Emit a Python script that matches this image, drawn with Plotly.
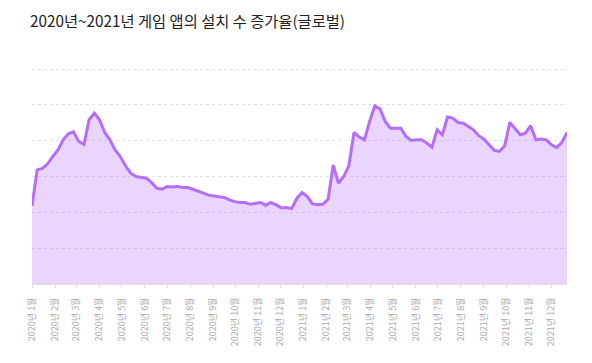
import pandas as pd
import plotly.graph_objects as go

title_text = "2020년~2021년 게임 앱의 설치 수 증가율(글로벌)"

# weekly values (relative scale)
values = [43.6, 63.7, 64.5, 67.1, 71.2, 74.9, 80.5, 83.9, 85.0, 79.6, 77.9, 91.7, 95.4, 91.7,
          84.6, 80.5, 74.9, 71.2, 66.0, 61.9, 60.0, 59.6, 59.1, 56.7, 53.5, 52.9, 54.4, 54.1,
          54.4, 53.9, 53.9, 52.9, 52.0, 50.7, 49.6, 49.3, 48.8, 48.3, 47.0, 46.0, 45.5, 45.5,
          44.5, 45.1, 45.5, 44.0, 45.5, 44.2, 42.5, 42.7, 42.1, 47.9, 51.1, 48.8,
          44.7, 44.2, 44.5, 47.3, 66.4, 56.3, 60.0, 66.0, 84.6, 82.0, 80.5, 90.8, 99.5, 97.7,
          90.8, 87.0, 87.0, 87.0, 82.4, 80.1, 80.5, 80.5, 78.7, 76.4, 86.1, 83.3, 93.2, 92.6,
          90.2, 89.8, 88.0, 86.1, 82.8, 80.9, 77.7, 74.6, 74.0, 77.2, 90.2, 87.0, 83.3, 84.2,
          88.4, 80.5, 80.9, 80.5, 77.7, 76.2, 79.0, 84.6]

weeks = pd.date_range("2020-01-01", periods=len(values), freq="7D")

month_ticks = pd.date_range("2020-01-01", "2021-12-01", freq="MS")
month_labels = [f"{d.year}년 {d.month}월" for d in month_ticks]

fig = go.Figure()
fig.add_trace(go.Scatter(
    x=weeks, y=values, mode="lines",
    line=dict(color="#b46dfd", width=3),
    fill="tozeroy", fillcolor="rgba(180,109,253,0.29)",
    hoverinfo="skip",
))

# page body adds an 8px offset; margins compensate for it
fig.update_layout(
    width=592, height=363,
    margin=dict(l=24, r=33, t=60, b=87),
    paper_bgcolor="white", plot_bgcolor="white",
    showlegend=False,
    font=dict(family="Noto Sans CJK KR, sans-serif"),
    title=dict(text=title_text, x=22 / 592, xref="container", xanchor="left",
               y=1 - 14 / 363, yref="container", yanchor="middle",
               font=dict(size=15.3, color="#222222", family="Noto Sans CJK KR")),
)

fig.update_xaxes(
    range=[weeks[0], weeks[-1]],
    tickvals=month_ticks, ticktext=month_labels,
    tickangle=-90, tickfont=dict(size=9, color="#a8a8a8"),
    showgrid=False, showline=True, linecolor="#dddddd", linewidth=1,
    ticks="outside", ticklen=3, tickcolor="#dddddd",
    ticklabelstandoff=6, automargin=False,
)
fig.update_yaxes(
    range=[0, 120.6], tickvals=[20, 40, 60, 80, 100, 120], showticklabels=False,
    showgrid=True, gridcolor="#e2e2e2", griddash="dot", gridwidth=1,
    zeroline=False, showline=False, automargin=False,
)

fig.write_html("out.html")
